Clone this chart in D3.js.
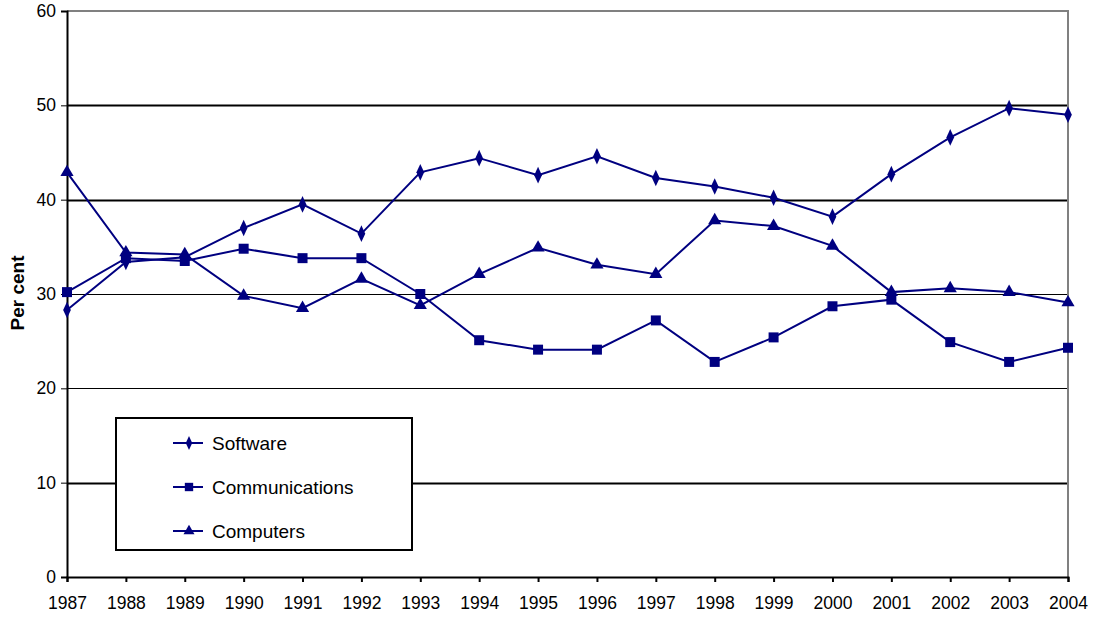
<!DOCTYPE html>
<html>
<head>
<meta charset="utf-8">
<style>
  body { margin: 0; background: #fff; }
  svg text { font-family: "Liberation Sans", Arial, sans-serif; fill: #000; }
</style>
</head>
<body>
<svg width="1094" height="618"></svg>
<script src="https://d3js.org/d3.v7.min.js"></script>
<script>
// years along the x axis
var years = [1987, 1988, 1989, 1990, 1991, 1992, 1993, 1994, 1995, 1996,
             1997, 1998, 1999, 2000, 2001, 2002, 2003, 2004];

// per cent values
var software = [28.3, 33.4, 33.9, 37.0, 39.5, 36.4, 42.9, 44.4, 42.6, 44.6,
                42.3, 41.4, 40.2, 38.2, 42.7, 46.6, 49.7, 49.0];
var communications = [30.2, 33.8, 33.5, 34.8, 33.8, 33.8, 30.0, 25.1, 24.1, 24.1,
                      27.2, 22.8, 25.4, 28.7, 29.4, 24.9, 22.8, 24.3];
var computers = [42.9, 34.4, 34.2, 29.8, 28.5, 31.6, 28.8, 32.1, 34.9, 33.1,
                 32.1, 37.8, 37.2, 35.1, 30.2, 30.6, 30.2, 29.1];

var yTicks = [0, 10, 20, 30, 40, 50, 60];

var series = [
  {name: "Software", values: software, symbol: d3.symbolDiamond, size: 80, sx: 0.8},
  {name: "Communications", values: communications, symbol: d3.symbolSquare, size: 100, sx: 1},
  {name: "Computers", values: computers, symbol: d3.symbolTriangle, size: 75, sx: 1}
];

var navy = "#000080";

var svg = d3.select("svg");
var plotL = 67, plotR = 1068, plotT = 11, plotB = 577;

var x = d3.scaleLinear().domain([1987, 2004]).range([plotL, plotR]);
var y = d3.scaleLinear().domain([0, 60]).range([plotB, plotT]);

// gridlines (some look heavier than others in the original)
var gridW = {10: 2, 20: 1, 30: 1, 40: 2, 50: 2};
svg.append("g").selectAll("line")
  .data(yTicks.filter(function(d) { return d > 0 && d < 60; }))
  .enter().append("line")
    .attr("x1", plotL).attr("x2", plotR)
    .attr("y1", function(d) { return Math.round(y(d)) + 0.5; })
    .attr("y2", function(d) { return Math.round(y(d)) + 0.5; })
    .attr("stroke", "#000")
    .attr("stroke-width", function(d) { return gridW[d]; });

// grey plot border on top and right
svg.append("path")
  .attr("d", "M" + plotL + "," + plotT + "H" + plotR + "V" + plotB)
  .attr("fill", "none")
  .attr("stroke", "#808080")
  .attr("stroke-width", 2);

// axes
var yAxis = d3.axisLeft(y).tickValues(yTicks).tickSize(6).tickPadding(5);
var gy = svg.append("g").attr("transform", "translate(" + plotL + ",0)").call(yAxis);
gy.select(".domain").attr("stroke-width", 2);
gy.selectAll("text").style("font-size", "17.5px");

var xAxis = d3.axisBottom(x).tickValues(years).tickFormat(d3.format("d")).tickSize(5).tickPadding(15);
var gx = svg.append("g").attr("transform", "translate(0," + plotB + ")").call(xAxis);
gx.select(".domain").attr("stroke-width", 2);
gx.selectAll("line").attr("stroke-width", 2);
gx.selectAll("text").style("font-size", "17.5px");

// y title
svg.append("text")
  .attr("transform", "translate(24,293) rotate(-90)")
  .attr("text-anchor", "middle")
  .style("font-size", "19px")
  .style("font-weight", "bold")
  .text("Per cent");

var line = d3.line()
  .x(function(d, i) { return x(years[i]); })
  .y(function(d) { return y(d); });

series.forEach(function(s) {
  svg.append("path")
    .datum(s.values)
    .attr("fill", "none")
    .attr("stroke", navy)
    .attr("stroke-width", 2)
    .attr("d", line);
  svg.append("g").selectAll("path")
    .data(s.values)
    .enter().append("path")
      .attr("transform", function(d, i) {
        return "translate(" + x(years[i]) + "," + y(d) + ") scale(" + s.sx + ",1)";
      })
      .attr("d", d3.symbol().type(s.symbol).size(s.size))
      .attr("fill", navy);
});

// legend
var lg = svg.append("g");
lg.append("rect")
  .attr("x", 116).attr("y", 418)
  .attr("width", 296).attr("height", 132)
  .attr("fill", "#fff")
  .attr("stroke", "#000")
  .attr("stroke-width", 2);

var items = lg.selectAll("g.item")
  .data(series)
  .enter().append("g")
    .attr("class", "item")
    .attr("transform", function(d, i) { return "translate(0," + (443 + i * 44) + ")"; });
items.append("line")
  .attr("x1", 173).attr("x2", 203)
  .attr("stroke", navy).attr("stroke-width", 2);
items.append("path")
  .attr("transform", function(d) { return "translate(189,0) scale(" + d.sx + ",1)"; })
  .attr("d", function(d) { return d3.symbol().type(d.symbol).size(d.size * 0.7)(); })
  .attr("fill", navy);
items.append("text")
  .attr("x", 212).attr("dy", "0.35em")
  .style("font-size", "19px")
  .text(function(d) { return d.name; });
</script>
</body>
</html>
